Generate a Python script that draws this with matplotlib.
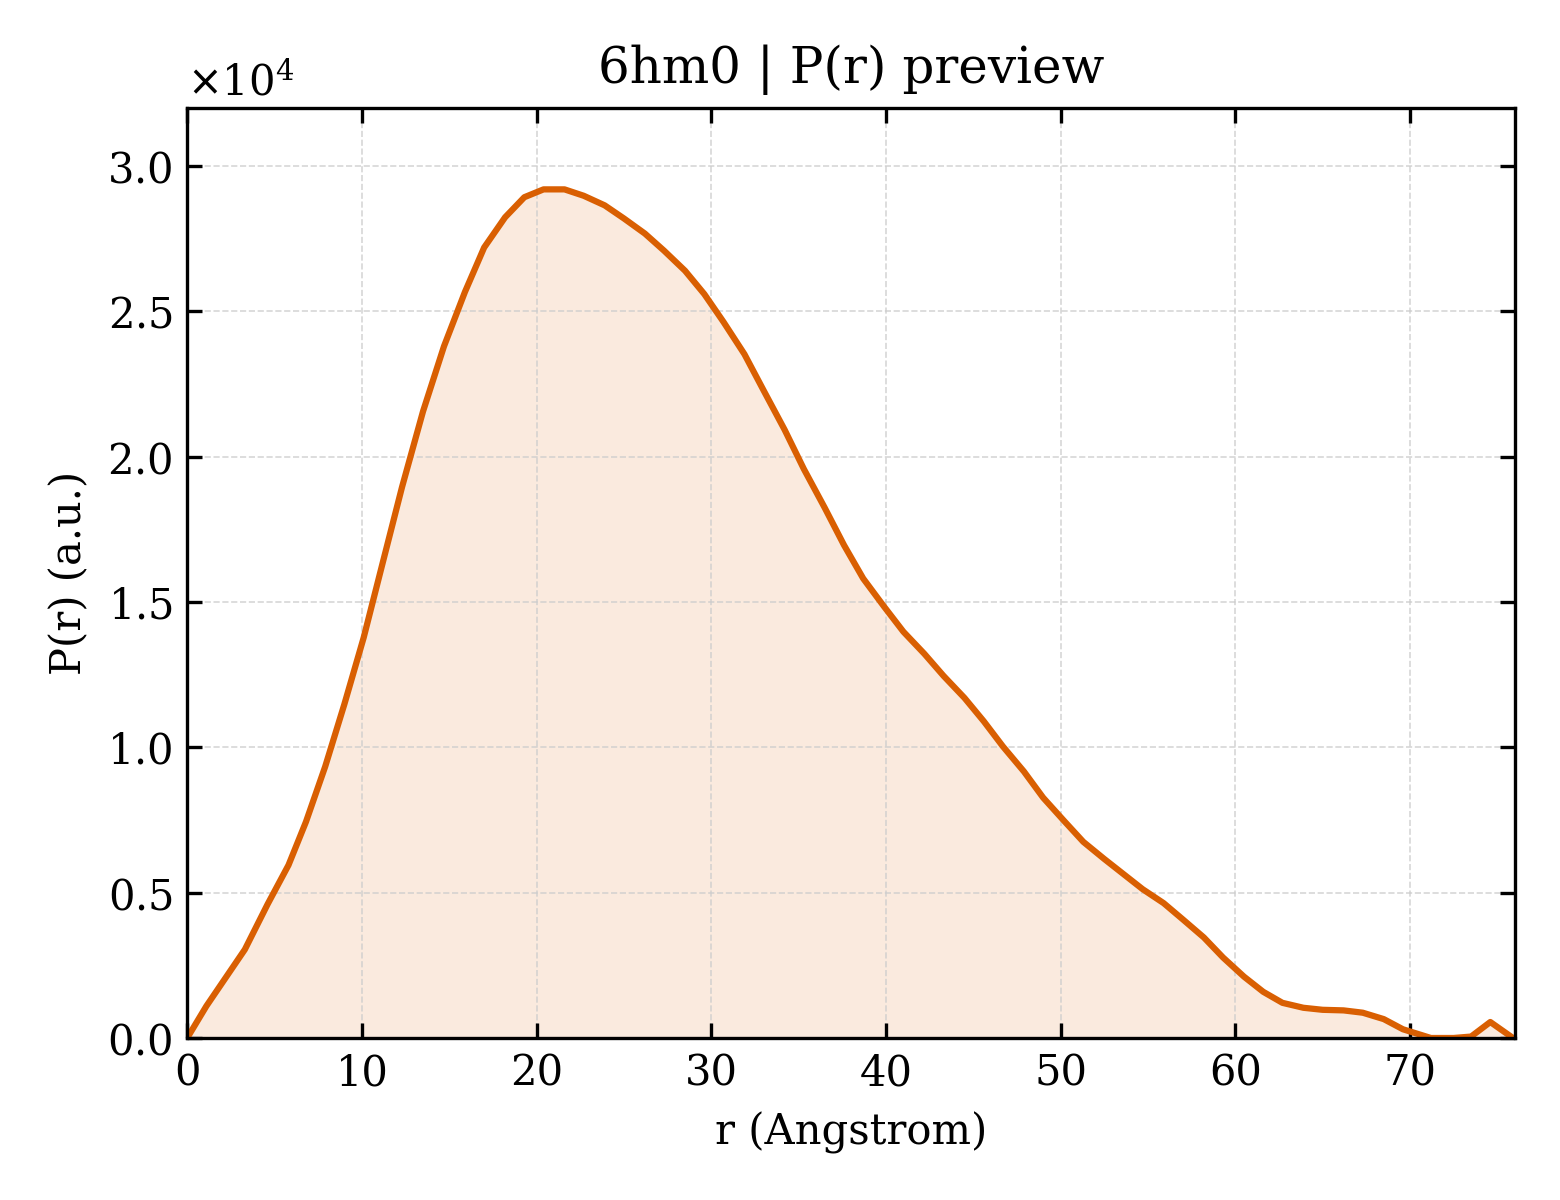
import matplotlib
matplotlib.use("Agg")
import matplotlib.pyplot as plt
from matplotlib.ticker import ScalarFormatter

r = [0, 1.1, 3.3, 4.6, 5.8, 6.8, 7.9, 9.0, 10.1, 11.2, 12.3, 13.5, 14.7, 15.9, 17.0,
     18.2, 19.3, 20.4, 21.6, 22.7, 23.9, 25.0, 26.2, 27.3, 28.5, 29.6, 30.7, 31.9,
     33.0, 34.2, 35.3, 36.5, 37.6, 38.7, 39.9, 41.0, 42.2, 43.3, 44.5, 45.6, 46.7,
     47.9, 49.0, 50.2, 51.3, 52.5, 53.6, 54.7, 55.9, 57.0, 58.2, 59.3, 60.5, 61.6,
     62.7, 63.9, 65.0, 66.2, 67.3, 68.5, 69.6, 71.2, 72.5, 73.5, 74.6, 75.9]
pr = [0, 1100, 3045, 4600, 5950, 7440, 9340, 11490, 13770, 16370, 18960, 21560,
      23800, 25670, 27200, 28240, 28930, 29200, 29200, 28980, 28650, 28200, 27680,
      27090, 26400, 25600, 24640, 23530, 22280, 20930, 19580, 18240, 16960, 15810,
      14840, 13980, 13220, 12460, 11700, 10900, 10030, 9170, 8270, 7470, 6750, 6160,
      5640, 5120, 4640, 4080, 3460, 2770, 2110, 1590, 1210, 1040, 970, 950, 870,
      650, 300, 0, 0, 50, 550, 0]

plt.rcParams['font.family'] = ['DejaVu Serif']
color = "#d95f02"

fig, ax = plt.subplots(figsize=(5.2, 4), dpi=300)
fig.subplots_adjust(left=0.12, right=0.971, top=0.91, bottom=0.135)
ax.fill_between(r, pr, color=color, alpha=0.13, lw=0)
ax.plot(r, pr, color=color, lw=1.5)
ax.set_xlim(0, 76)
ax.set_ylim(0, 32000)
ax.set_xlabel("r (Angstrom)")
ax.set_ylabel("P(r) (a.u.)")
ax.set_title("6hm0 | P(r) preview")
fmt = ScalarFormatter(useMathText=True)
fmt.set_powerlimits((0, 0))
ax.yaxis.set_major_formatter(fmt)
ax.tick_params(direction="in", top=True, right=True)
ax.grid(True, ls="--", lw=0.4, color="#cccccc", alpha=0.8)
fig.savefig("out.png", dpi=300)
